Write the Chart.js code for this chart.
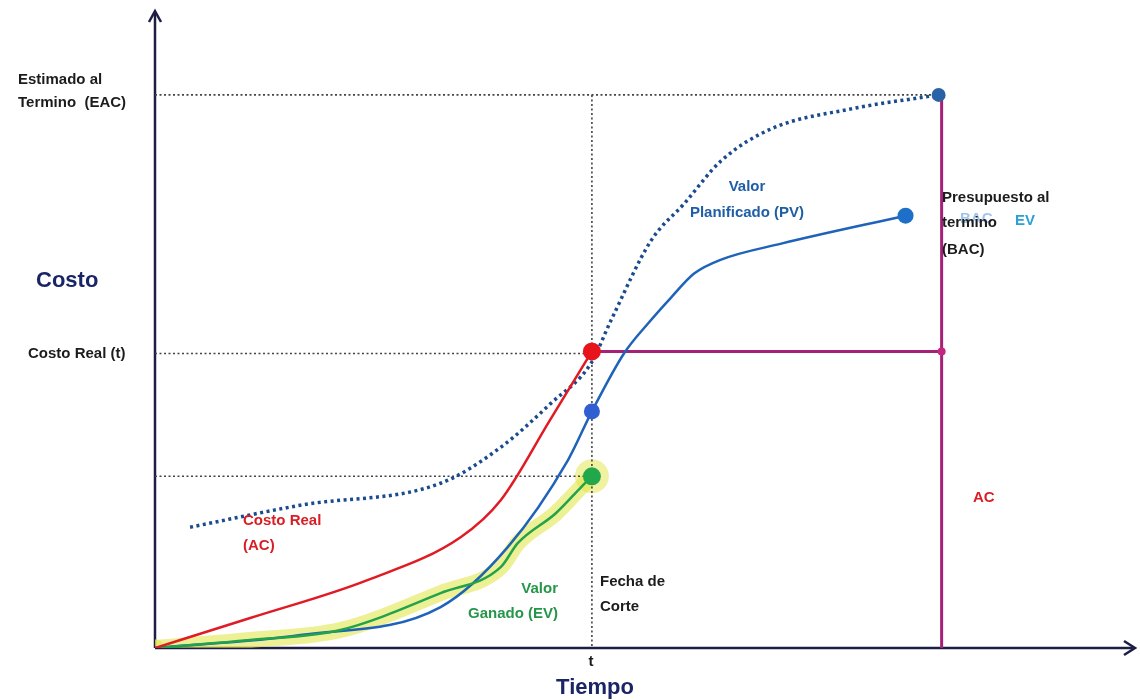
<!DOCTYPE html>
<html>
<head>
<meta charset="utf-8">
<script src="https://cdn.jsdelivr.net/npm/chart.js@4"></script>
<style>
  html, body { margin: 0; padding: 0; background: #ffffff; }
  #wrap { width: 1140px; height: 700px; }
</style>
</head>
<body>
<div id="wrap"><canvas id="evmChart" width="1140" height="700"></canvas></div>
<script>
// Data (tiempo / costo, unidades)
const cutTime = 436;
const endTime = 785;
const eacCost = 554;
const acCostAtCut = 297;
const evCostAtCut = 172;

const acTime = [0, 95, 212, 305, 345, 394, 436];
const acCost = [0, 30, 68, 111, 148, 228, 297];

const evTime = [0, 95, 185, 285, 345, 362, 400, 426, 436];
const evCost = [0, 8, 18, 55, 81, 105, 135, 162, 172];

const pvTime = [0, 145, 285, 352, 412, 436, 468, 492, 515, 538, 565, 625, 749];
const pvCost = [0, 13, 41, 101, 188, 237, 295, 325, 351, 375, 389, 405, 433];

const eacTime = [35, 145, 285, 345, 395, 435, 455, 495, 528, 565, 615, 695, 782];
const eacCurve = [121, 143, 165, 201, 245, 285, 328, 408, 445, 488, 520, 540, 554];

const markerTime = [436, 436, 436, 749, 782];
const markerCost = [297, 237, 172, 433, 554];
const markerColors = ["#e8141c", "#2f5fd0", "#22a84a", "#1e6fc8", "#2a62a8"];

function pts(xs, ys) {
  return xs.map((x, i) => ({ x: x, y: ys[i] }));
}

//DOM Elements
const ctx = document.getElementById("evmChart");

const axesPlugin = {
  id: "axesPlugin",
  beforeDatasetsDraw(chart) {
    const c = chart.ctx;
    const xs = chart.scales.x;
    const ys = chart.scales.y;
    const x0 = xs.getPixelForValue(0);
    const y0 = ys.getPixelForValue(0);
    c.save();
    c.strokeStyle = "#1d1d45";
    c.lineWidth = 2.5;
    c.beginPath();
    c.moveTo(x0, y0);
    c.lineTo(x0, 12);
    c.moveTo(x0, y0);
    c.lineTo(1134, y0);
    c.stroke();
    c.lineJoin = "miter";
    c.beginPath();
    c.moveTo(x0 - 6, 22);
    c.lineTo(x0, 11);
    c.lineTo(x0 + 6, 22);
    c.moveTo(1124, y0 - 7);
    c.lineTo(1135, y0);
    c.lineTo(1124, y0 + 7);
    c.stroke();
    c.restore();
  },
  afterDraw(chart) {
    const c = chart.ctx;
    c.save();
    c.textBaseline = "middle";
    function txt(s, x, y, color, size, align) {
      c.font = "bold " + size + "px 'Liberation Sans', Arial, sans-serif";
      c.fillStyle = color;
      c.textAlign = align || "left";
      c.fillText(s, x, y);
    }
    const dark = "#1c1c1c";
    txt("Estimado al", 18, 80, dark, 15);
    txt("Termino  (EAC)", 18, 103, dark, 15);
    txt("Costo", 36, 281, "#1a2566", 22);
    txt("Costo Real (t)", 28, 354, dark, 15);

    txt("Valor", 747, 187, "#1f5ea6", 15, "center");
    txt("Planificado (PV)", 747, 213, "#1f5ea6", 15, "center");

    txt("BAC", 960, 219, "rgba(80,150,220,0.55)", 15);
    txt("EV", 1015, 221, "#2a9fd8", 15);
    txt("Presupuesto al", 942, 198, dark, 15);
    txt("termino", 942, 223, dark, 15);
    txt("(BAC)", 942, 250, dark, 15);

    txt("AC", 973, 498, "#d81e24", 15);

    txt("Costo Real", 243, 521, "#d81e24", 15);
    txt("(AC)", 243, 546, "#d81e24", 15);

    txt("Valor", 558, 589, "#25964a", 15, "right");
    txt("Ganado (EV)", 558, 614, "#25964a", 15, "right");

    txt("Fecha de", 600, 582, dark, 15);
    txt("Corte", 600, 607, dark, 15);

    txt("t", 591, 662, dark, 15, "center");
    txt("Tiempo", 595, 688, "#1a2566", 22, "center");
    c.restore();
  },
};

function createChart() {
  const data = {
    datasets: [
      {
        label: "markers",
        data: pts(markerTime, markerCost),
        showLine: false,
        pointRadius: [9, 8, 9, 8, 7],
        pointBackgroundColor: markerColors,
        pointBorderWidth: 0,
        order: 0,
      },
      {
        label: "Costo Real (AC)",
        data: pts(acTime, acCost),
        borderColor: "#e01b24",
        borderWidth: 2.5,
        pointRadius: 0,
        cubicInterpolationMode: "monotone",
        order: 1,
      },
      {
        label: "Valor Ganado (EV)",
        data: pts(evTime, evCost),
        borderColor: "#23a349",
        borderWidth: 2.5,
        pointRadius: 0,
        cubicInterpolationMode: "monotone",
        order: 2,
      },
      {
        label: "Valor Planificado (PV)",
        data: pts(pvTime, pvCost),
        borderColor: "#1f63b8",
        borderWidth: 2.5,
        pointRadius: 0,
        cubicInterpolationMode: "monotone",
        order: 3,
      },
      {
        label: "EAC",
        data: pts(eacTime, eacCurve),
        borderColor: "#1b4b8f",
        borderWidth: 3.5,
        borderDash: [3, 3.5],
        pointRadius: 0,
        cubicInterpolationMode: "monotone",
        order: 4,
      },
      {
        label: "BAC / AC",
        data: [
          { x: cutTime, y: acCostAtCut },
          { x: endTime, y: acCostAtCut },
          { x: endTime, y: eacCost },
          { x: endTime, y: 0 },
        ],
        borderColor: "#a52077",
        borderWidth: 3,
        pointRadius: [0, 4, 0, 0],
        pointBackgroundColor: "#c4257f",
        pointBorderWidth: 0,
        tension: 0,
        order: 5,
      },
      {
        label: "guia EAC",
        data: [{ x: 0, y: eacCost }, { x: endTime, y: eacCost }],
        borderColor: "#444",
        borderWidth: 1.6,
        borderDash: [2, 2.5],
        pointRadius: 0,
        order: 6,
      },
      {
        label: "guia AC",
        data: [{ x: 0, y: acCostAtCut - 2 }, { x: cutTime, y: acCostAtCut - 2 }],
        borderColor: "#444",
        borderWidth: 1.6,
        borderDash: [2, 2.5],
        pointRadius: 0,
        order: 6,
      },
      {
        label: "guia EV",
        data: [{ x: 0, y: evCostAtCut }, { x: cutTime, y: evCostAtCut }],
        borderColor: "#444",
        borderWidth: 1.6,
        borderDash: [2, 2.5],
        pointRadius: 0,
        order: 6,
      },
      {
        label: "guia t",
        data: [{ x: cutTime, y: eacCost }, { x: cutTime, y: 0 }],
        borderColor: "#444",
        borderWidth: 1.6,
        borderDash: [2, 2.5],
        pointRadius: 0,
        order: 6,
      },
      {
        label: "resaltado EV",
        data: pts(evTime, evCost),
        borderColor: "rgba(222,228,60,0.55)",
        borderWidth: 16,
        borderCapStyle: "round",
        pointRadius: [9, 0, 0, 0, 0, 0, 0, 0, 17],
        pointBackgroundColor: "rgba(225,230,70,0.5)",
        pointBorderWidth: 0,
        cubicInterpolationMode: "monotone",
        order: 7,
      },
    ],
  };

  const config = {
    type: "line",
    data,
    options: {
      responsive: false,
      animation: false,
      layout: { padding: { left: 155, right: 5, top: 10, bottom: 52 } },
      plugins: { legend: { display: false }, tooltip: { enabled: false } },
      scales: {
        x: { type: "linear", min: 0, max: 966, display: false },
        y: { type: "linear", min: 0, max: 632, display: false },
      },
    },
    plugins: [axesPlugin],
  };

  new Chart(ctx, config);
}

createChart();
</script>
</body>
</html>
